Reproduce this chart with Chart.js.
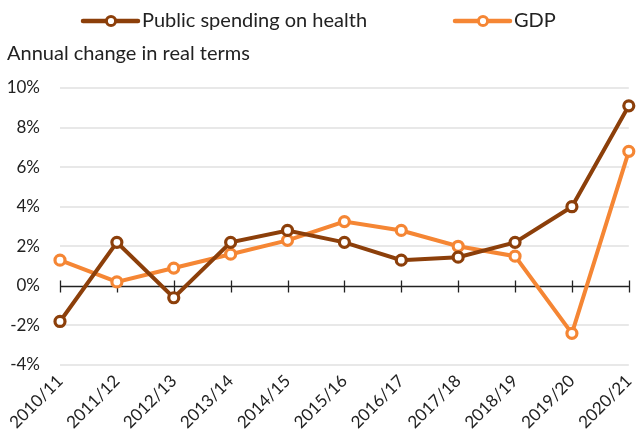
<!DOCTYPE html>
<html>
<head>
<meta charset="utf-8">
<script src="https://cdn.jsdelivr.net/npm/chart.js@4/dist/chart.umd.min.js"></script>
<style>
html,body{margin:0;padding:0;background:#fff;}
#wrap{width:637px;height:444px;position:relative;}
</style>
</head>
<body>
<div id="wrap"><canvas id="c"></canvas></div>
<script>
const categories = ["2010/11","2011/12","2012/13","2013/14","2014/15","2015/16","2016/17","2017/18","2018/19","2019/20","2020/21"];
const healthSpending = [-1.8, 2.2, -0.6, 2.2, 2.8, 2.2, 1.3, 1.45, 2.2, 4.0, 9.1];
const gdp = [1.3, 0.2, 0.9, 1.6, 2.3, 3.25, 2.8, 2.0, 1.5, -2.4, 6.8];
const seriesNames = ["Public spending on health", "GDP"];
const yTitle = "Annual change in real terms";

const FONT = "Lato, sans-serif";
const BROWN = "#8C3F0A";
const ORANGE = "#F58634";
const legendStarts = [83, 455];

const customLegend = {
  id: 'customLegend',
  afterDraw(chart){
    const ctx = chart.ctx;
    ctx.save();
    chart.data.datasets.forEach((d,i)=>{
      const x = legendStarts[i], y = 21;
      ctx.strokeStyle = d.borderColor; ctx.lineWidth = 4.5; ctx.lineCap = 'round';
      ctx.beginPath(); ctx.moveTo(x, y); ctx.lineTo(x+55, y); ctx.stroke();
      ctx.beginPath(); ctx.arc(x+28, y, 4.6, 0, Math.PI*2);
      ctx.fillStyle = '#fff'; ctx.fill(); ctx.lineWidth = 3; ctx.stroke();
      ctx.fillStyle = '#222';
      ctx.font = "20px " + FONT;
      ctx.textBaseline = 'middle';
      ctx.fillText(d.label, x + 59, y);
    });
    ctx.restore();
  }
};

const zeroAxis = {
  id: 'zeroAxis',
  beforeDatasetsDraw(chart){
    const {ctx, chartArea, scales} = chart;
    const y0 = Math.round(scales.y.getPixelForValue(0)) + 0.5;
    ctx.save();
    ctx.strokeStyle = '#222';
    ctx.lineWidth = 1.3;
    ctx.beginPath();
    ctx.moveTo(chartArea.left, y0); ctx.lineTo(chartArea.right, y0);
    scales.x.ticks.forEach((t,i)=>{
      const x = Math.round(scales.x.getPixelForTick(i)) + 0.5;
      ctx.moveTo(x, y0-6); ctx.lineTo(x, y0+6);
    });
    ctx.stroke();
    ctx.restore();
  }
};

new Chart(document.getElementById('c'), {
  type: 'line',
  data: {
    labels: categories,
    datasets: [
      {label: seriesNames[0], data: healthSpending, borderColor: BROWN, backgroundColor: '#fff',
       borderWidth: 4, pointRadius: 5, pointBorderWidth: 3.2, pointBackgroundColor: '#fff', pointBorderColor: BROWN, tension: 0, clip: false},
      {label: seriesNames[1], data: gdp, borderColor: ORANGE, backgroundColor: '#fff',
       borderWidth: 4, pointRadius: 5, pointBorderWidth: 3.2, pointBackgroundColor: '#fff', pointBorderColor: ORANGE, tension: 0, clip: false}
    ]
  },
  options: {
    responsive: true,
    maintainAspectRatio: false,
    animation: false,
    layout: {padding: {left: 7, right: 6, top: 42, bottom: 0}},
    plugins: {
      legend: {display: false},
      title: {
        display: true,
        text: yTitle,
        align: 'start',
        font: {family: FONT, size: 20, weight: 'normal'},
        color: '#222',
        padding: {top: 0, bottom: 22}
      },
      tooltip: {enabled: false}
    },
    scales: {
      x: {
        offset: false,
        grid: {display: false, drawTicks: false},
        border: {display: false},
        afterFit(s){ s.height = 79; s.paddingRight = 0; s.paddingLeft = 0; },
        ticks: {
          autoSkip: false, maxRotation: 45, minRotation: 45,
          font: {family: FONT, size: 17}, color: '#222', padding: 6
        }
      },
      y: {
        min: -4, max: 10,
        grid: {color: (c)=> c.tick.value === 0 ? 'rgba(0,0,0,0)' : '#e8e8e8', lineWidth: 2, drawTicks: false},
        border: {display: false},
        afterFit(s){ s.width = 53; s.paddingTop = 0; s.paddingBottom = 0; },
        ticks: {
          stepSize: 2, padding: 20,
          font: {family: FONT, size: 17}, color: '#222',
          callback: (v)=> v + '%'
        }
      }
    }
  },
  plugins: [zeroAxis, customLegend]
});
</script>
</body>
</html>
